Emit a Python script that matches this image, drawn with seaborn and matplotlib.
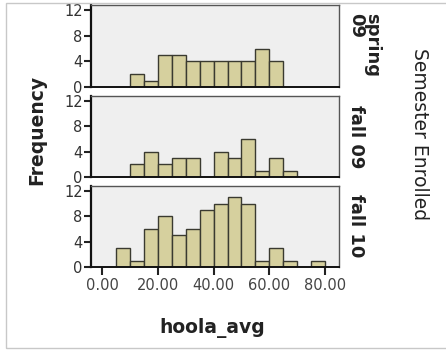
import numpy as np
import pandas as pd
import matplotlib
matplotlib.use("Agg")
import matplotlib.pyplot as plt
import seaborn as sns
from matplotlib.patches import Rectangle

# histogram counts per 5-unit bin
bin_edges = [5, 10, 15, 20, 25, 30, 35, 40, 45, 50, 55, 60, 65, 70, 75, 80]
semesters = ["spring\n09", "fall 09", "fall 10"]
spring09 = [0, 2, 1, 5, 5, 4, 4, 4, 4, 4, 6, 4, 0, 0, 0]
fall09 = [0, 2, 4, 2, 3, 3, 0, 4, 3, 6, 1, 3, 1, 0, 0]
fall10 = [3, 1, 6, 8, 5, 6, 9, 10, 11, 10, 1, 3, 1, 0, 1]
x_ticks = [0, 20, 40, 60, 80]
y_ticks = [0, 4, 8, 12]

centers = [(a + b) / 2 for a, b in zip(bin_edges[:-1], bin_edges[1:])]
rows = []
for sem, counts in zip(semesters, [spring09, fall09, fall10]):
    for c, n in zip(centers, counts):
        rows.append({"sem": sem, "hoola_avg": c, "n": n})
df = pd.DataFrame(rows)

sns.set_style("white")
plt.rcParams['font.family'] = ['DejaVu Sans']

fig = plt.figure(figsize=(4.46, 3.51), dpi=100)
fig.patches.append(Rectangle((6 / 446, 3 / 351), 1.2, 345 / 351, transform=fig.transFigure,
                             fill=False, edgecolor="#c8c8c8", lw=1))

positions = [(0.204, 0.752, 0.556, 0.234), (0.204, 0.496, 0.556, 0.231), (0.204, 0.239, 0.556, 0.231)]
label_y = [45, 137, 226]
for i, sem in enumerate(semesters):
    ax = fig.add_axes(positions[i])
    sub = df[df["sem"] == sem]
    sns.histplot(data=sub, x="hoola_avg", weights="n", bins=bin_edges, ax=ax,
                 color="#d6d09e", edgecolor="#3a3a30", linewidth=1, alpha=1)
    ax.set_facecolor("#efefef")
    ax.set_xlim(-4, 85)
    ax.set_ylim(0, 12.8)
    ax.set_yticks(y_ticks)
    ax.set_yticklabels([str(t) for t in y_ticks], fontsize=10.5, color="#333333")
    ax.tick_params(axis="y", direction="out", length=5, width=1.5, color="#222222", pad=1, left=True)
    for s in ["top", "right"]:
        ax.spines[s].set_color("#555555")
        ax.spines[s].set_linewidth(1)
    ax.spines["left"].set_color("#111111")
    ax.spines["left"].set_linewidth(1.6)
    ax.spines["bottom"].set_color("#111111")
    ax.spines["bottom"].set_linewidth(1.4)
    ax.set_ylabel("")
    ax.set_xlabel("")
    if i < 2:
        ax.set_xticks([])
    else:
        ax.set_xticks(x_ticks)
        ax.set_xticklabels(["%.2f" % t for t in x_ticks], fontsize=10.5, color="#444444")
        ax.tick_params(axis="x", direction="out", length=6, width=1.5, color="#222222", pad=2, bottom=True)
    fig.text(347 / 446, 1 - label_y[i] / 351, sem, rotation=-90, ha="left", va="center",
             multialignment="left", fontsize=13, fontweight="bold", color="#222222", linespacing=0.85)

fig.text(37 / 446, 1 - 130 / 351, "Frequency", rotation=90, ha="center", va="center",
         fontsize=13.5, fontweight="bold", color="#222222")
fig.text(212 / 446, 1 - 328 / 351, "hoola_avg", ha="center", va="center",
         fontsize=13.5, fontweight="bold", color="#222222")
fig.text(419 / 446, 1 - 134 / 351, "Semester Enrolled", rotation=-90, ha="center", va="center",
         fontsize=13.5, color="#222222")

fig.savefig("out.png", dpi=100)
